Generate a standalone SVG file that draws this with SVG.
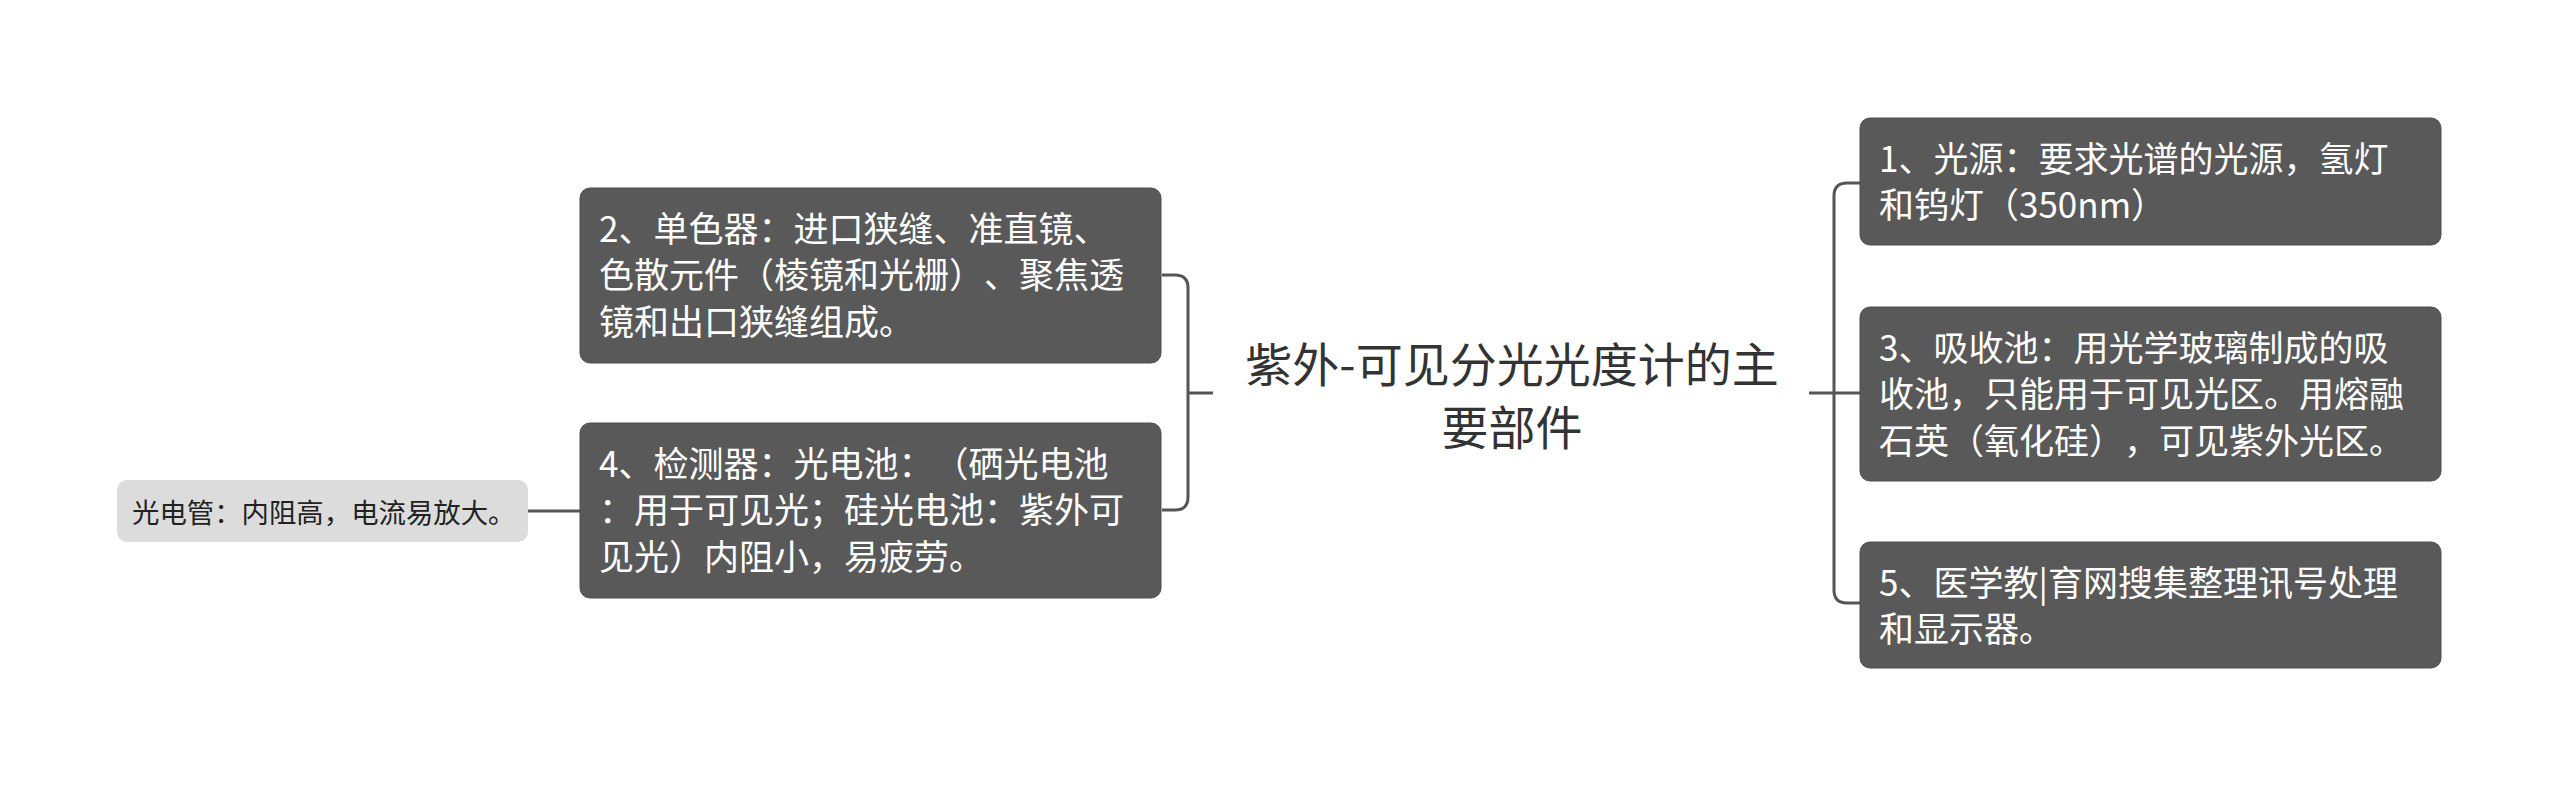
<svg xmlns="http://www.w3.org/2000/svg" width="2560" height="787" viewBox="0 0 2560 787">
<style>
text{text-spacing-trim:space-all;font-feature-settings:"chws" 0,"halt" 0,"palt" 0}
.box{fill:#595959;stroke:#4f4f4f;stroke-width:1}
.bt{font-family:"Noto Sans CJK SC","Noto Sans",sans-serif;font-size:35px;fill:#ffffff}
.leaf{fill:#dcdcdc}
.lt{font-family:"Noto Sans CJK SC","Noto Sans",sans-serif;font-size:27.4px;fill:#222222}
.ct{font-family:"Noto Sans CJK SC","Noto Sans",sans-serif;font-size:47px;fill:#333333;text-anchor:middle}
.con{fill:none;stroke:#555555;stroke-width:3}
</style>
<rect width="2560" height="787" fill="#ffffff"/>
<g id="connectors">
<path class="con" d="M528,511 H580"/>
<path class="con" d="M1162,275 H1175 Q1188,275 1188,288 V497 Q1188,510 1175,510 H1162"/>
<path class="con" d="M1188,393 H1213"/>
<path class="con" d="M1809,393 H1860"/>
<path class="con" d="M1860,183 H1847 Q1834,183 1834,196 V590 Q1834,603 1847,603 H1860"/>
</g>
<g id="center">
<text class="ct" x="1512" y="382">紫外-可见分光光度计的主</text>
<text class="ct" x="1512" y="445">要部件</text>
</g>
<g id="n2">
<rect class="box" x="580" y="188" width="581" height="175" rx="10"/>
<text class="bt" x="599" y="242">2、单色器：进口狭缝、准直镜、</text>
<text class="bt" x="599" y="288">色散元件（棱镜和光栅）、聚焦透</text>
<text class="bt" x="599" y="335">镜和出口狭缝组成。</text>
</g>
<g id="n4">
<rect class="box" x="580" y="423" width="581" height="175" rx="10"/>
<text class="bt" x="599" y="477">4、检测器：光电池：（硒光电池</text>
<text class="bt" x="599" y="523">：用于可见光；硅光电池：紫外可</text>
<text class="bt" x="599" y="570">见光）内阻小，易疲劳。</text>
</g>
<g id="leaf">
<rect class="leaf" x="117" y="480" width="411" height="62" rx="10"/>
<text class="lt" x="132" y="523">光电管：内阻高，电流易放大。</text>
</g>
<g id="n1">
<rect class="box" x="1860" y="118" width="581" height="127" rx="10"/>
<text class="bt" x="1879" y="172">1、光源：要求光谱的光源，氢灯</text>
<text class="bt" x="1879" y="218">和钨灯（350nm）</text>
</g>
<g id="n3">
<rect class="box" x="1860" y="307" width="581" height="174" rx="10"/>
<text class="bt" x="1879" y="361">3、吸收池：用光学玻璃制成的吸</text>
<text class="bt" x="1879" y="407">收池，只能用于可见光区。用熔融</text>
<text class="bt" x="1879" y="454">石英（氧化硅），可见紫外光区。</text>
</g>
<g id="n5">
<rect class="box" x="1860" y="542" width="581" height="126" rx="10"/>
<text class="bt" x="1879" y="596">5、医学教|育网搜集整理讯号处理</text>
<text class="bt" x="1879" y="642">和显示器。</text>
</g>
</svg>
